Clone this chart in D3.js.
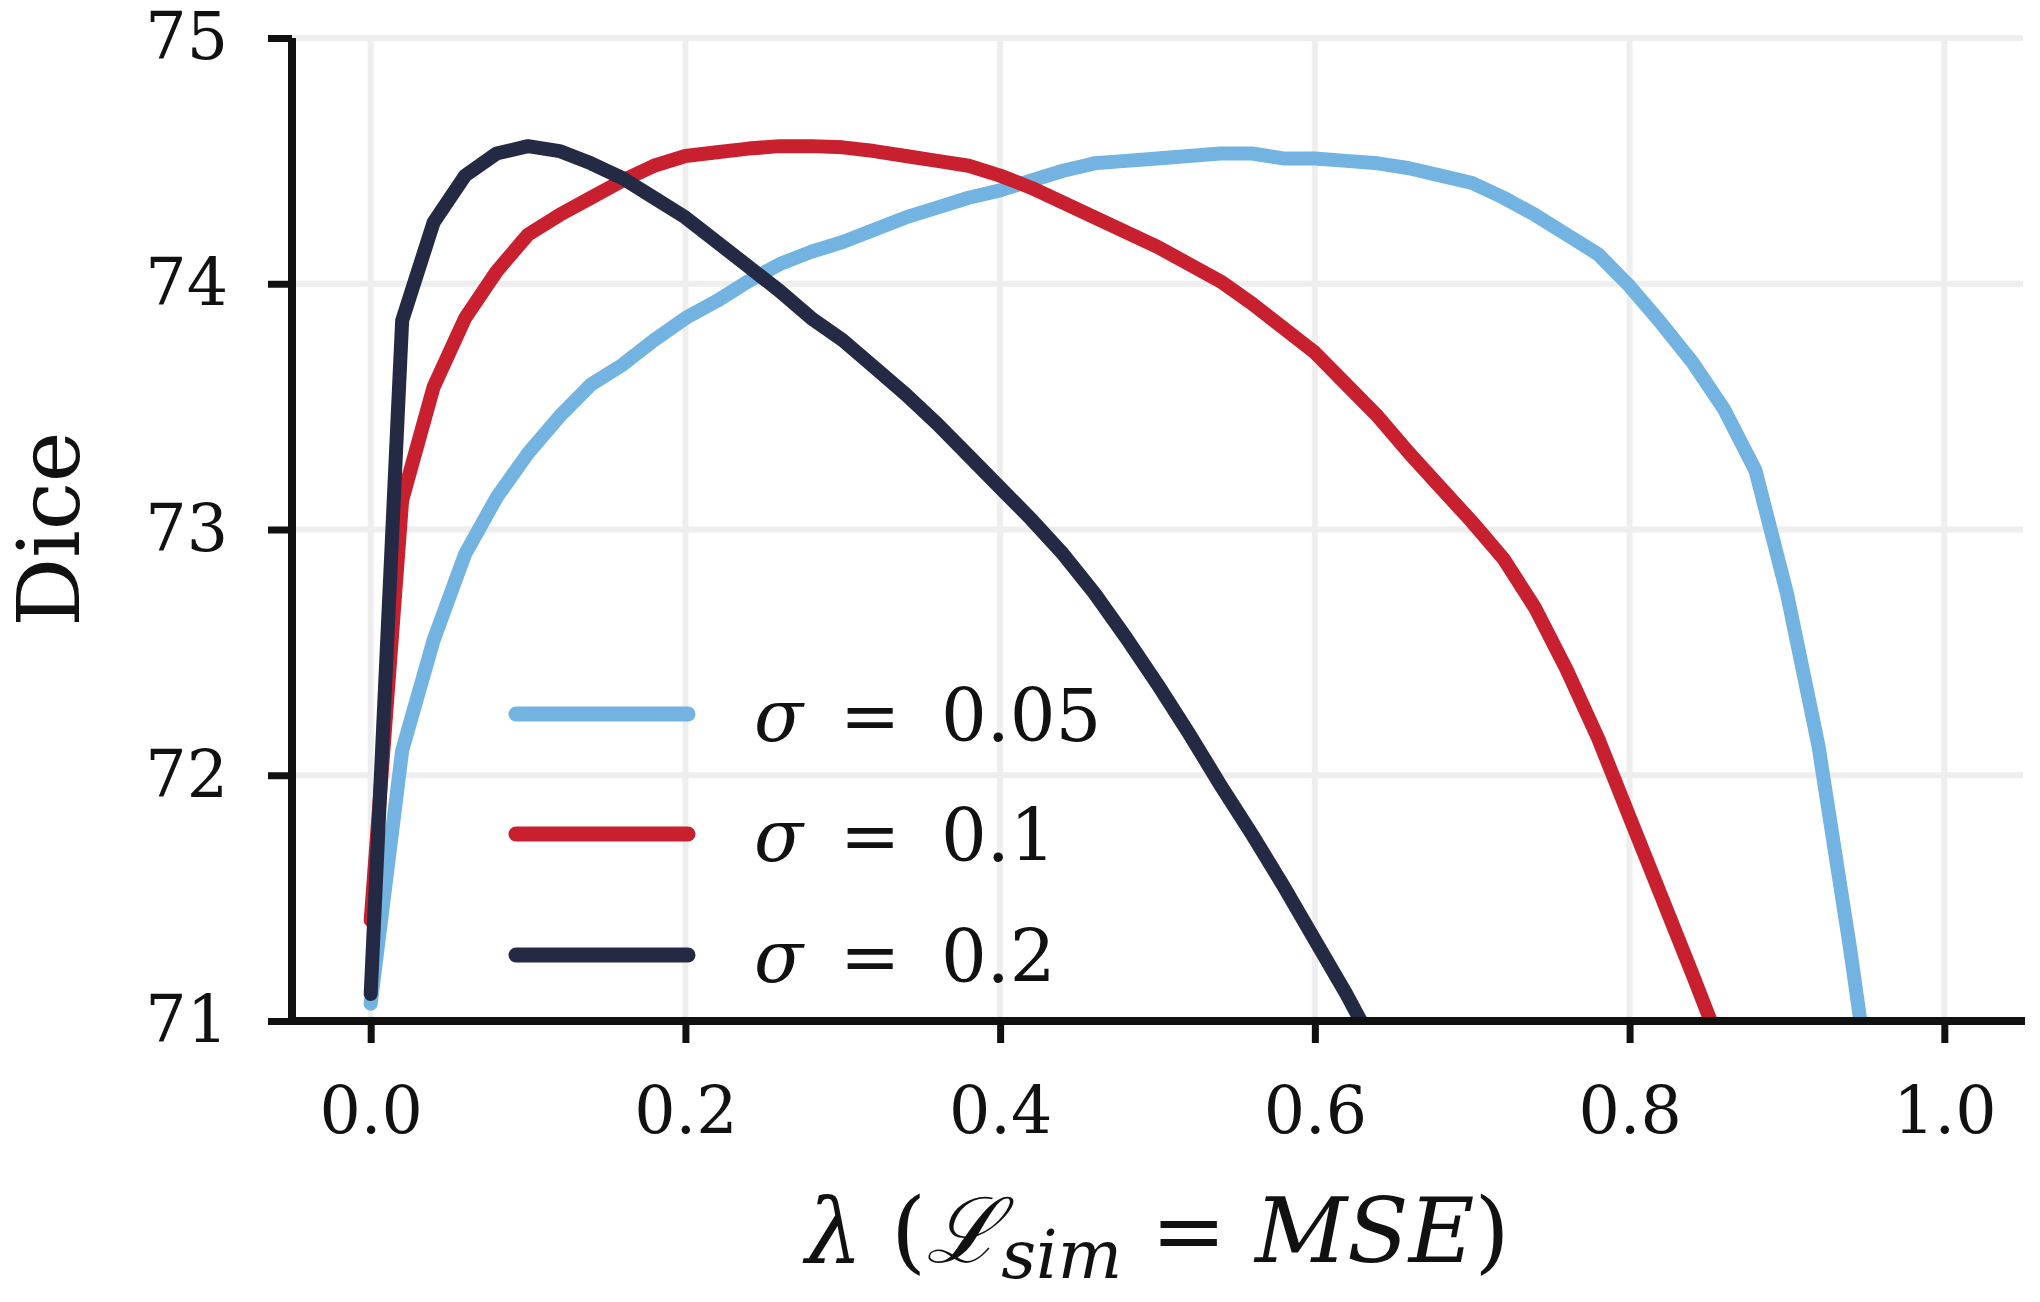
<!DOCTYPE html>
<html>
<head>
<meta charset="utf-8">
<script src="https://cdn.jsdelivr.net/npm/d3@7"></script>
<style>
  html, body { margin: 0; padding: 0; background: #ffffff; }
  svg { display: block; }
  text { font-family: "DejaVu Serif", "Liberation Serif", serif; fill: #111; }
</style>
</head>
<body>
<svg id="chart" width="2040" height="1302"></svg>
<script>
// ---- data ----
const lambdas = [0.00, 0.02, 0.04, 0.06, 0.08, 0.10, 0.12, 0.14, 0.16, 0.18,
                 0.20, 0.22, 0.24, 0.26, 0.28, 0.30, 0.32, 0.34, 0.36, 0.38,
                 0.40, 0.42, 0.44, 0.46, 0.48, 0.50, 0.52, 0.54, 0.56, 0.58,
                 0.60, 0.62, 0.64, 0.66, 0.68, 0.70, 0.72, 0.74, 0.76, 0.78,
                 0.80, 0.82, 0.84, 0.86, 0.88, 0.90, 0.92, 0.94, 0.96];

const sigma005 = [71.07, 72.10, 72.55, 72.90, 73.13, 73.31, 73.46, 73.59, 73.67, 73.77,
                  73.86, 73.93, 74.01, 74.08, 74.13, 74.17, 74.22, 74.27, 74.31, 74.35,
                  74.38, 74.42, 74.46, 74.49, 74.50, 74.51, 74.52, 74.53, 74.53, 74.51,
                  74.51, 74.50, 74.49, 74.47, 74.44, 74.41, 74.35, 74.28, 74.20, 74.12,
                  73.99, 73.84, 73.68, 73.49, 73.24, 72.74, 72.12, 71.30, 70.40];

const sigma01 = [71.41, 73.12, 73.58, 73.86, 74.05, 74.20, 74.28, 74.35, 74.42, 74.48,
                 74.52, 74.535, 74.55, 74.56, 74.56, 74.555, 74.54, 74.52, 74.50, 74.48,
                 74.44, 74.39, 74.33, 74.27, 74.21, 74.15, 74.08, 74.01, 73.92, 73.82,
                 73.72, 73.59, 73.46, 73.31, 73.17, 73.03, 72.88, 72.68, 72.43, 72.15,
                 71.83, 71.51, 71.19, 70.86];

const sigma02 = [71.11, 73.85, 74.25, 74.44, 74.53, 74.56, 74.54, 74.49, 74.43, 74.35,
                 74.27, 74.17, 74.07, 73.97, 73.86, 73.77, 73.66, 73.55, 73.43, 73.30,
                 73.17, 73.04, 72.90, 72.74, 72.56, 72.37, 72.17, 71.96, 71.76, 71.55,
                 71.33, 71.11, 70.87];

const seriesNames = ["σ", "σ", "σ"];
const seriesValues = ["0.05", "0.1", "0.2"];
const seriesColors = ["#72b3e2", "#c9202f", "#242a44"];
const xTicks = [0.0, 0.2, 0.4, 0.6, 0.8, 1.0];
const xTickLabels = ["0.0", "0.2", "0.4", "0.6", "0.8", "1.0"];
const yTicks = [71, 72, 73, 74, 75];
const yTickLabels = ["71", "72", "73", "74", "75"];
const yLabel = "Dice";

// ---- layout ----
const svg = d3.select("#chart");
const pLeft = 292, pRight = 2023, pTop = 38, pBottom = 1021;

const x = d3.scaleLinear().domain([-0.05, 1.05]).range([pLeft, pRight]);
const y = d3.scaleLinear().domain([71, 75]).range([pBottom, pTop]);

// clip
svg.append("defs").append("clipPath").attr("id", "plotclip")
  .append("rect").attr("x", pLeft).attr("y", pTop - 20)
  .attr("width", pRight - pLeft + 10).attr("height", pBottom - pTop + 20);

// gridlines
const grid = svg.append("g");
grid.selectAll("line.vg").data(xTicks).join("line").attr("class", "vg")
  .attr("x1", d => x(d)).attr("x2", d => x(d))
  .attr("y1", pTop).attr("y2", pBottom)
  .attr("stroke", "#eeeeee").attr("stroke-width", 6);
grid.selectAll("line.hg").data(yTicks).join("line").attr("class", "hg")
  .attr("x1", pLeft).attr("x2", pRight)
  .attr("y1", d => y(d)).attr("y2", d => y(d))
  .attr("stroke", "#eeeeee").attr("stroke-width", 6);

// lines
const allSeries = [sigma005, sigma01, sigma02];
const line = d3.line()
  .x(d => x(d[0]))
  .y(d => y(d[1]));

const plot = svg.append("g").attr("clip-path", "url(#plotclip)");
allSeries.forEach((vals, i) => {
  const pts = vals.map((v, j) => [lambdas[j], v]);
  plot.append("path")
    .datum(pts)
    .attr("d", line)
    .attr("fill", "none")
    .attr("stroke", seriesColors[i])
    .attr("stroke-width", 14)
    .attr("stroke-linejoin", "round")
    .attr("stroke-linecap", "round");
});

// axes
const xAxis = d3.axisBottom(x)
  .tickValues(xTicks)
  .tickFormat((d, i) => xTickLabels[i])
  .tickSize(22).tickSizeOuter(0).tickPadding(44);
const gx = svg.append("g").attr("transform", `translate(0,${pBottom})`).call(xAxis);
gx.select(".domain").attr("stroke", "#111").attr("stroke-width", 8)
  .attr("d", `M${pLeft},0H${pRight + 2}`);
gx.selectAll(".tick line").attr("stroke", "#111").attr("stroke-width", 7);
gx.selectAll(".tick text").attr("font-size", 65).attr("fill", "#111")
  .attr("font-family", "DejaVu Serif");

const yAxis = d3.axisLeft(y)
  .tickValues(yTicks)
  .tickFormat((d, i) => yTickLabels[i])
  .tickSize(24).tickSizeOuter(0).tickPadding(40);
const gy = svg.append("g").attr("transform", `translate(${pLeft},0)`).call(yAxis);
gy.select(".domain").attr("stroke", "#111").attr("stroke-width", 8)
  .attr("d", `M0,${pTop}V${pBottom + 4}`);
gy.selectAll(".tick line").attr("stroke", "#111").attr("stroke-width", 7);
gy.selectAll(".tick text").attr("font-size", 65).attr("fill", "#111")
  .attr("font-family", "DejaVu Serif");

// y label
svg.append("text")
  .attr("transform", `translate(79,529) rotate(-90)`)
  .attr("text-anchor", "middle")
  .attr("font-size", 86)
  .text(yLabel);

// x label: λ (ℒ_sim = MSE)
const xl = svg.append("text")
  .attr("x", (pLeft + pRight) / 2).attr("y", 1262)
  .attr("text-anchor", "middle")
  .attr("font-size", 90);
xl.append("tspan").attr("font-style", "italic").text("λ");
xl.append("tspan").text(" (");
xl.append("tspan").attr("font-style", "italic").text("ℒ");
xl.append("tspan").attr("font-style", "italic").attr("font-size", 68).attr("dy", 16).text("sim");
xl.append("tspan").attr("dy", -16).text(" = ");
xl.append("tspan").attr("font-style", "italic").text("MSE");
xl.append("tspan").text(")");

// legend
const legendY = [714, 834, 955];
const lg = svg.append("g");
seriesColors.forEach((c, i) => {
  lg.append("line")
    .attr("x1", 516).attr("x2", 688)
    .attr("y1", legendY[i]).attr("y2", legendY[i])
    .attr("stroke", c).attr("stroke-width", 15).attr("stroke-linecap", "round");
  lg.append("text").attr("x", 754).attr("y", legendY[i] + 27)
    .attr("font-size", 72).attr("font-style", "italic").text(seriesNames[i]);
  lg.append("text").attr("x", 840).attr("y", legendY[i] + 27)
    .attr("font-size", 72).text("=");
  lg.append("text").attr("x", 941).attr("y", legendY[i] + 27)
    .attr("font-size", 72).text(seriesValues[i]);
});
</script>
</body>
</html>
